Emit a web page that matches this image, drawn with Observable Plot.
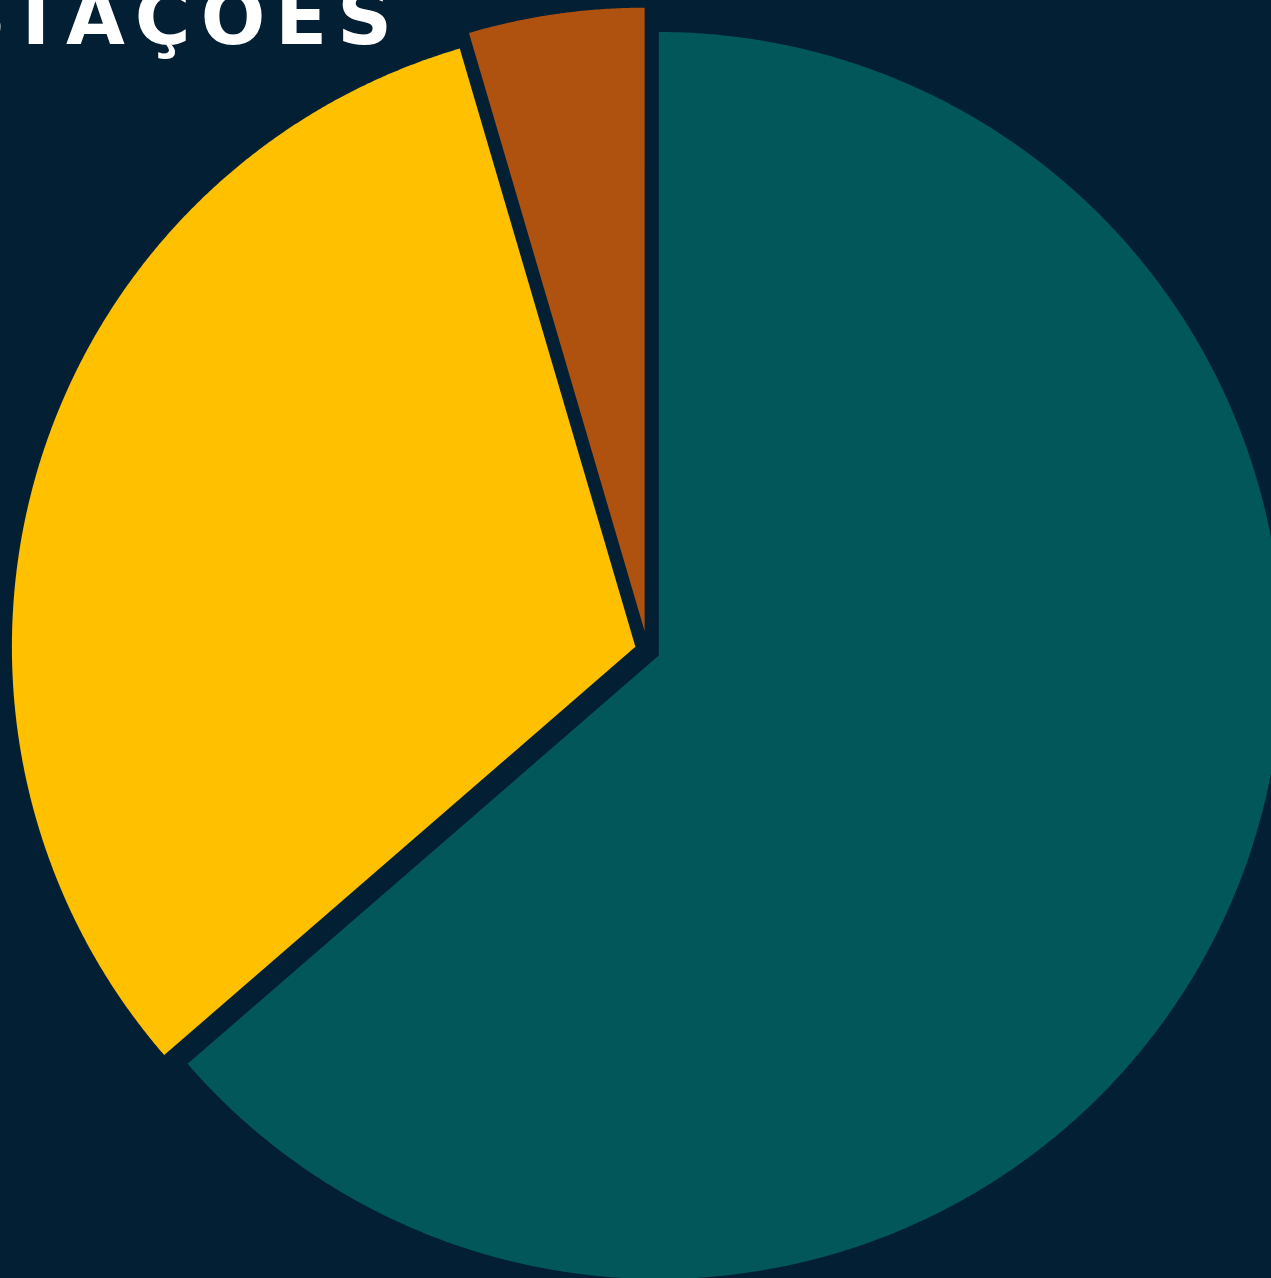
<!DOCTYPE html>
<html>
<head>
<meta charset="utf-8">
<script src="https://cdn.jsdelivr.net/npm/d3@7"></script>
<script src="https://cdn.jsdelivr.net/npm/@observablehq/plot@0.6"></script>
<style>
  html, body { margin: 0; padding: 0; background: #031F33; overflow: hidden; }
  #wrap { position: relative; width: 1271px; height: 1278px; }
  #title {
    position: absolute; left: 0; top: 0; width: 1271px; height: 80px; pointer-events: none;
  }
</style>
</head>
<body>
<div id="wrap"></div>
<script>
// ---- data ----
const titleLead = "S";
const titleText = "TAÇÕES";
const categories = ["Categoria 1", "Categoria 2", "Categoria 3"];
const values = [14, 7, 1];
const colors = ["#02575A", "#FFC000", "#B0520F"];

// ---- layout constants ----
const W = 1271, H = 1278;
const CX = 646.9, CY = 649.8, R = 623.5;
const pulls = [12.5, 12.5, 19.3]; // explode distance in px

const table = categories.map((c, i) => ({category: c, value: values[i]}));
const arcs = d3.pie().sort(null).value(d => d.value)(table);

// Build slice outlines in unit (radius = 1) coordinates, y pointing up,
// angles clockwise from the top.
const pts = [];
arcs.forEach((a, i) => {
  const mid = (a.startAngle + a.endAngle) / 2;
  const p = pulls[i] / R;
  const ox = p * Math.sin(mid), oy = p * Math.cos(mid);
  const cat = a.data.category;
  pts.push({category: cat, x: ox, y: oy});
  const n = Math.max(2, Math.ceil((a.endAngle - a.startAngle) / (Math.PI / 720)));
  for (let k = 0; k <= n; k++) {
    const t = a.startAngle + (a.endAngle - a.startAngle) * k / n;
    pts.push({category: cat, x: ox + Math.sin(t), y: oy + Math.cos(t)});
  }
  pts.push({category: cat, x: ox, y: oy});
});

const chart = Plot.plot({
  width: W,
  height: H,
  margin: 0,
  style: {background: "#031F33", overflow: "hidden"},
  x: {domain: [-1, 1], range: [CX - R, CX + R], axis: null},
  y: {domain: [-1, 1], range: [CY + R, CY - R], axis: null},
  color: {domain: categories, range: colors},
  marks: [
    Plot.line(pts, {x: "x", y: "y", z: "category", fill: "category", stroke: null, curve: "linear"})
  ]
});
document.getElementById("wrap").appendChild(chart);

// title overlay (partially cropped, as in the reference)
const svg = d3.select("#wrap").append("svg")
  .attr("id", "title").attr("width", W).attr("height", 80);
const font = "'DejaVu Sans', 'Open Sans', sans-serif";
svg.append("text")
  .attr("x", 6).attr("y", 44)
  .attr("text-anchor", "end")
  .attr("fill", "#FFFFFF")
  .style("font-family", font)
  .style("font-weight", 700)
  .style("font-size", "76px")
  .text(titleLead);
svg.append("text")
  .attr("x", 10).attr("y", 44)
  .attr("fill", "#FFFFFF")
  .attr("textLength", 382)
  .attr("lengthAdjust", "spacing")
  .style("font-family", font)
  .style("font-weight", 700)
  .style("font-size", "76px")
  .text(titleText);
</script>
</body>
</html>
